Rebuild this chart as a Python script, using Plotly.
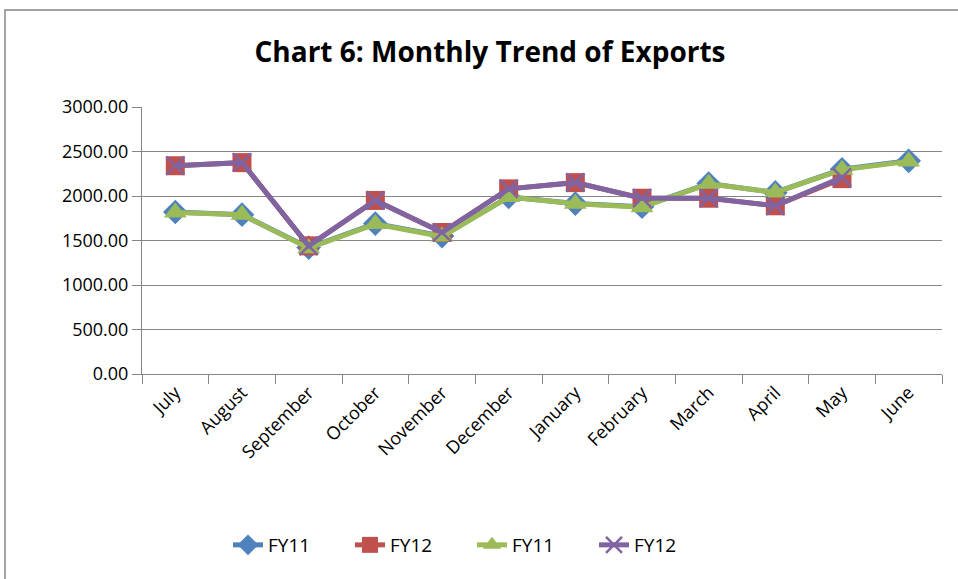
import plotly.graph_objects as go

months = ["July", "August", "September", "October", "November", "December",
          "January", "February", "March", "April", "May", "June"]
fy11_a = [1820, 1790, 1420, 1690, 1550, 1990, 1915, 1880, 2140, 2040, 2300, 2395]
fy12_a = [2340, 2375, 1440, 1950, 1590, 2080, 2150, 1975, 1975, 1890, 2195]
fy11_b = [1815, 1789, 1414, 1684, 1545, 1988, 1912, 1875, 2137, 2040, 2295, 2389]
fy12_b = [2340, 2377, 1440, 1950, 1590, 2080, 2152, 1976, 1976, 1890, 2210]
y_ticks = [0, 500, 1000, 1500, 2000, 2500, 3000]

fig = go.Figure()
fig.add_trace(go.Scatter(x=months, y=fy11_a, name="FY11", mode="lines+markers",
                         line=dict(color="#4F81BD", width=5),
                         marker=dict(symbol="diamond", size=19, color="#4F81BD")))
fig.add_trace(go.Scatter(x=months[:len(fy12_a)], y=fy12_a, name="FY12", mode="lines+markers",
                         line=dict(color="#C0504D", width=5),
                         marker=dict(symbol="square", size=19, color="#C0504D")))
fig.add_trace(go.Scatter(x=months, y=fy11_b, name="FY11", mode="lines+markers",
                         line=dict(color="#9BBB59", width=5),
                         marker=dict(symbol="triangle-up", size=20, color="#9BBB59")))
fig.add_trace(go.Scatter(x=months[:len(fy12_b)], y=fy12_b, name="FY12", mode="lines+markers",
                         line=dict(color="#8064A2", width=5),
                         marker=dict(symbol="x-thin", size=18, color="#8064A2",
                                     line=dict(color="#8064A2", width=2.5))))

L, T, R, B = 142, 107, 942, 374
W, H = R - L, B - T
def px(x):
    return (x - L) / W
def py(y):
    return (B - y) / H

fig.update_layout(
    width=958, height=579,
    margin=dict(l=L, r=958 - R, t=T, b=579 - B),
    paper_bgcolor="white", plot_bgcolor="white",
    font=dict(family="Open Sans", color="black", size=18),
    title=dict(text="<b>Chart 6: Monthly Trend of Exports</b>",
               x=490 / 958, xref="container", xanchor="center",
               y=1 - 52 / 579, yanchor="middle",
               font=dict(family="Open Sans", size=28, color="black")),
    showlegend=True,
    legend=dict(orientation="h", x=px(472), xanchor="center", y=py(545), yanchor="middle",
                font=dict(size=19), bgcolor="rgba(0,0,0,0)",
                entrywidth=77, entrywidthmode="pixels", tracegroupgap=0),
    xaxis=dict(type="category", range=[-0.5, 11.5], showgrid=False,
               showline=True, linecolor="#868686", linewidth=1,
               ticks="outside", tickson="boundaries", ticklen=9, tickcolor="#868686",
               tickangle=-45, tickfont=dict(size=18)),
    yaxis=dict(range=[0, 3000], tickvals=y_ticks, tickformat=".2f",
               showgrid=True, gridcolor="#868686", gridwidth=1,
               showline=True, linecolor="#868686", linewidth=1,
               ticks="outside", ticklen=9, tickcolor="#868686",
               zeroline=False, tickfont=dict(size=18)),
    shapes=[dict(type="rect", xref="paper", yref="paper",
                 x0=px(5), x1=px(962), y0=py(590), y1=py(10),
                 line=dict(color="#868686", width=1.5), fillcolor="rgba(0,0,0,0)",
                 layer="below")],
)

fig.write_html("out.html", config={"displayModeBar": False},
               post_script="document.body.style.margin='0';")
